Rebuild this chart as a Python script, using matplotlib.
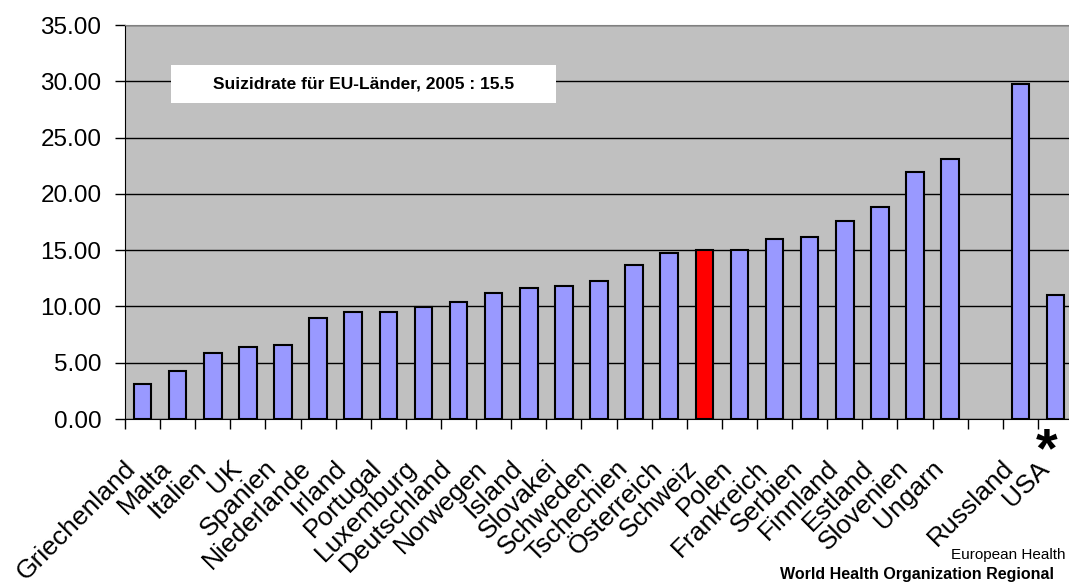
import numpy as np
import matplotlib
matplotlib.use("Agg")
import matplotlib.pyplot as plt
import matplotlib.transforms as mtransforms
from matplotlib.patches import Rectangle
from matplotlib.ticker import FormatStrFormatter

plt.rcParams['font.family'] = ['Liberation Sans', 'DejaVu Sans']

# suicide rate per 100 000, 2005 (an empty slot separates Russland/USA)
countries = ["Griechenland", "Malta", "Italien", "UK", "Spanien", "Niederlande",
             "Irland", "Portugal", "Luxemburg", "Deutschland", "Norwegen", "Island",
             "Slovakei", "Schweden", "Tschechien", "Österreich", "Schweiz", "Polen",
             "Frankreich", "Serbien", "Finnland", "Estland", "Slovenien", "Ungarn",
             "", "Russland", "USA"]
rates = [3.1, 4.3, 5.9, 6.4, 6.6, 9.0,
         9.5, 9.5, 9.95, 10.4, 11.15, 11.6,
         11.85, 12.3, 13.7, 14.75, 15.0, 15.0,
         15.95, 16.2, 17.6, 18.8, 21.9, 23.1,
         np.nan, 29.8, 11.0]
highlight = "Schweiz"
eu_label = "Suizidrate für EU-Länder, 2005 : 15.5"
source_1 = "European Health"
source_2 = "World Health Organization Regional"

W, H = 1069, 585
fig = plt.figure(figsize=(W / 100, H / 100), dpi=100)
ax = fig.add_axes([125 / W, 166 / H, 948 / W, 394 / H])
ax.set_facecolor('#c0c0c0')

x = np.arange(len(countries))
colors = ['#ff0000' if c == highlight else '#9999ff' for c in countries]
ax.bar(x, rates, width=0.5, color=colors, edgecolor='black', linewidth=1.5, zorder=3)

ax.set_xlim(-0.5, len(countries) - 0.5)
ax.set_ylim(0, 35)
ax.set_yticks(np.arange(0, 36, 5))
ax.yaxis.set_major_formatter(FormatStrFormatter('%.2f'))
ax.grid(axis='y', color='black', linewidth=1, zorder=1)
ax.set_axisbelow(True)

# tick marks at category boundaries, labels drawn separately
ax.set_xticks(np.arange(len(countries) + 1) - 0.5)
ax.set_xticklabels([])
ax.tick_params(axis='both', direction='out', length=7, width=1, color='black')
ax.tick_params(axis='y', labelsize=17.5, pad=10)

ax.spines['top'].set_color('#808080')
ax.spines['right'].set_visible(False)
ax.spines['left'].set_color('black')
ax.spines['bottom'].set_color('black')

offset = mtransforms.ScaledTranslation(-19 / 100, -37 / 100, fig.dpi_scale_trans)
trans = ax.get_xaxis_transform() + offset
for i, c in enumerate(countries):
    if c:
        ax.text(i, 0, c, transform=trans, rotation=45, ha='right', va='top',
                rotation_mode='anchor', fontsize=19, clip_on=False)

# white info box
ax.add_patch(Rectangle((0.0485, 0.802), 0.406, 0.096, transform=ax.transAxes,
                       facecolor='white', edgecolor='none', zorder=4))
ax.text(0.2516, 0.850, eu_label, transform=ax.transAxes, ha='center', va='center',
        fontsize=12.5, fontweight='bold', zorder=5)

fig.text(1047 / W, 1 - 452 / H, "*", fontsize=40, fontweight='bold',
         ha='center', va='center')

fig.text(951 / W, 1 - 555 / H, source_1, fontsize=11, ha='left', va='center')
fig.text(780 / W, 1 - 574 / H, source_2, fontsize=11.5, fontweight='bold',
         ha='left', va='center')

fig.savefig("out.png", dpi=100)
